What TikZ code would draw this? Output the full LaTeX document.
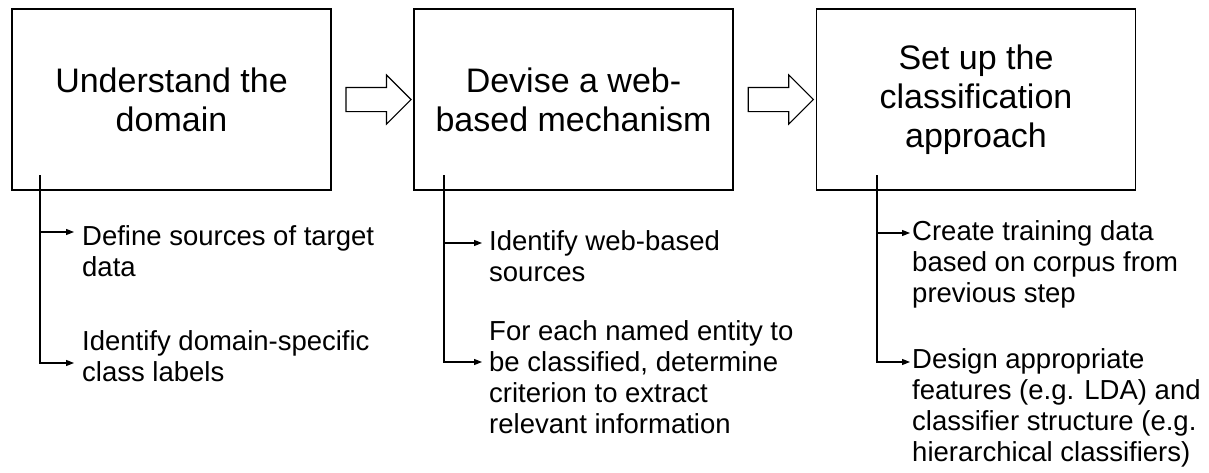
\documentclass[tikz,border=0pt]{standalone}
\usepackage{fontspec}
\setmainfont{Liberation Sans}
\usetikzlibrary{
    arrows.meta,
    shapes.arrows,
    calc,
    positioning
}

\begin{document}
\begin{tikzpicture}[x=1pt, y=-1pt,
        stage/.style={draw, line width=1.3pt, minimum width=319pt, minimum height=181pt, inner sep=0pt, align=center, font=\fontsize{34}{39}\selectfont},
        item/.style={anchor=north west, inner sep=0pt, align=left, font=\fontsize{27.5}{31}\selectfont},
        flow/.style={draw, line width=1.1pt, single arrow, single arrow head extend=12.5pt, minimum height=65pt, inner xsep=0pt, inner ysep=11.5pt},
        branch/.style={line width=1.1pt, -{Triangle[length=8pt, width=6pt]}}]
    \useasboundingbox (0, 0) rectangle (1209, 472);

    % the three stages
    \node[stage] (understand) at (171.5, 99.5) {Understand the\\domain};
    \node[stage] (devise) at (573.5, 99.5) {Devise a web-\\based mechanism};
    \node[stage] (setup) at (976, 99.5) {Set up the\\classification\\approach};

    \node[flow] (next1) at ($(understand.east)!0.5!(devise.west)$) {};
    \node[flow] (next2) at ($(devise.east)!0.5!(setup.west)$) {};

    % sub steps
    \node[item] (sources) at (82, 225) {Define sources of target\\data};
    \node[item] (labels) at (82, 330) {Identify domain-specific\\class labels};
    \node[item] (websources) at (489, 230) {Identify web-based\\sources};
    \node[item] (criterion) at (489, 320) {For each named entity to\\be classified, determine\\criterion to extract\\relevant information};
    \node[item] (training) at (912, 220) {Create training data\\based on corpus from\\previous step};
    \node[item] (features) at (912, 348) {Design appropriate\\features (e.g. LDA) and\\classifier structure (e.g.\\hierarchical classifiers)};

    \coordinate (s1) at (40, 175);
    \coordinate (s2) at (444, 175);
    \coordinate (s3) at (877, 175);
    \coordinate (t1a) at (74, 232);
    \coordinate (t1b) at (74, 363);
    \coordinate (t2a) at (482, 243);
    \coordinate (t2b) at (482, 362);
    \coordinate (t3a) at (910, 233);
    \coordinate (t3b) at (910, 362);

    \draw[branch] (s1) |- (t1b);
    \draw[branch] (s1 |- t1a) -- (t1a);
    \draw[branch] (s2) |- (t2b);
    \draw[branch] (s2 |- t2a) -- (t2a);
    \draw[branch] (s3) |- (t3b);
    \draw[branch] (s3 |- t3a) -- (t3a);
\end{tikzpicture}
\end{document}
